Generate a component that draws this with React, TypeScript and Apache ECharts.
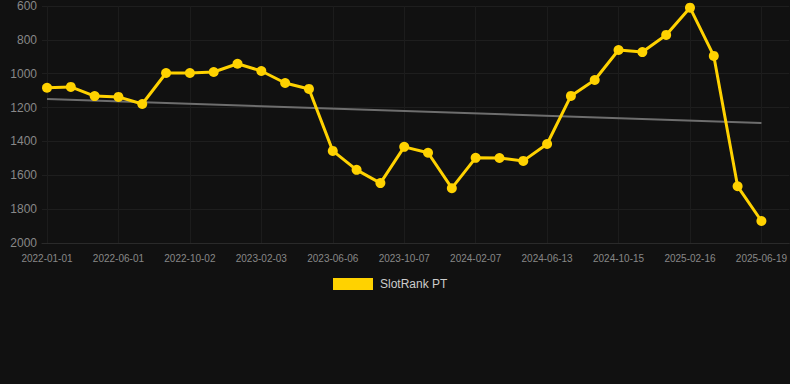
import React, { useEffect, useRef } from "react";
import * as echarts from "echarts";

const dates: string[] = [
  "2022-01-01", "2022-02-20", "2022-04-11", "2022-06-01", "2022-07-12", "2022-08-22",
  "2022-10-02", "2022-11-12", "2022-12-23", "2023-02-03", "2023-03-16", "2023-04-26",
  "2023-06-06", "2023-07-17", "2023-08-27", "2023-10-07", "2023-11-17", "2023-12-28",
  "2024-02-07", "2024-03-20", "2024-05-01", "2024-06-13", "2024-07-24", "2024-09-03",
  "2024-10-15", "2024-11-25", "2025-01-05", "2025-02-16", "2025-03-29", "2025-05-09",
  "2025-06-19",
];

const ranks: number[] = [
  1083, 1078, 1132, 1137, 1179, 996, 996, 990, 941, 984, 1055, 1090,
  1456, 1568, 1646, 1432, 1467, 1676, 1497, 1498, 1515, 1415, 1131, 1037,
  860, 872, 771, 610, 895, 1665, 1870,
];

const trendStart = 1149;
const trendEnd = 1291;

const labelIndices: number[] = [0, 3, 6, 9, 12, 15, 18, 21, 24, 27, 30];
const yTicks = { min: 600, max: 2000, step: 200 };

export default function App() {
  const ref = useRef<HTMLDivElement>(null);
  useEffect(() => {
    document.body.style.margin = "0";
    document.body.style.background = "#111111";
    if (!ref.current) return;
    const chart = echarts.init(ref.current, null, { renderer: "svg" });
    const last = dates.length - 1;
    chart.setOption({
      animation: false,
      backgroundColor: "#111111",
      grid: { left: 42, right: 0, top: 6, bottom: 141, containLabel: false },
      legend: {
        data: ["SlotRank PT"],
        top: 278,
        left: 333,
        itemWidth: 40,
        itemHeight: 12,
        itemGap: 10,
        icon: "rect",
        textStyle: { color: "#cccccc", fontSize: 12, padding: [0, 0, 0, 2], fontFamily: "Liberation Sans, Arial, sans-serif" },
        padding: 0,
      },
      xAxis: {
        type: "value",
        min: -0.21,
        max: last + 1.17,
        axisLine: { show: true, lineStyle: { color: "#2a2a2a" } },
        axisTick: { show: false, customValues: labelIndices },
        splitLine: { show: true, lineStyle: { color: "#1c1c1c" } },
        axisLabel: {
          customValues: labelIndices,
          color: "#888888",
          fontSize: 10,
          margin: 10,
          fontFamily: "Liberation Sans, Arial, sans-serif",
          formatter: (v: number) => dates[Math.round(v)] ?? "",
        },
      },
      yAxis: {
        type: "value",
        inverse: true,
        min: yTicks.min,
        max: yTicks.max,
        interval: yTicks.step,
        axisLine: { show: false },
        axisTick: { show: false },
        splitLine: { show: true, lineStyle: { color: "#1e1e1e" } },
        axisLabel: {
          color: "#888888",
          fontSize: 12,
          margin: 5,
          fontFamily: "Liberation Sans, Arial, sans-serif",
          formatter: (v: number) => String(v),
        },
      },
      series: [
        {
          name: "Trend",
          type: "line",
          data: [[0, trendStart], [last, trendEnd]],
          symbol: "none",
          lineStyle: { color: "#6e6e6e", width: 2 },
          z: 1,
        },
        {
          name: "SlotRank PT",
          type: "line",
          data: ranks.map((v, i) => [i, v]),
          symbol: "circle",
          symbolSize: 10,
          itemStyle: { color: "#FFD200" },
          lineStyle: { color: "#FFD200", width: 3 },
          z: 2,
        },
      ],
    });
    return () => chart.dispose();
  }, []);
  return <div ref={ref} style={{ width: 790, height: 384 }} />;
}
